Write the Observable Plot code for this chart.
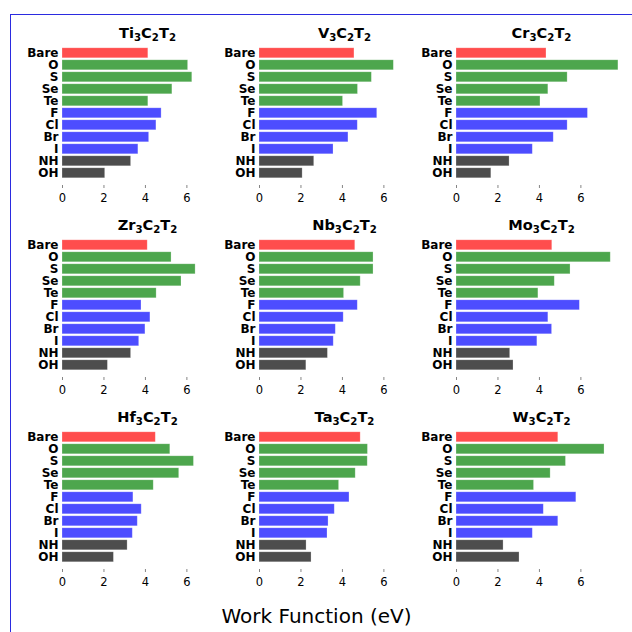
<!DOCTYPE html>
<html>
<head>
<meta charset="utf-8">
<script src="https://cdn.jsdelivr.net/npm/d3@7"></script>
<script src="https://cdn.jsdelivr.net/npm/@observablehq/plot@0.6"></script>
<style>
html, body { margin: 0; padding: 0; background: #fff; overflow: hidden; }
#wrap { position: relative; width: 632px; height: 632px; }
#frame { position: absolute; left: 10px; top: 13.5px; right: -5px; bottom: -5px;
  border-left: 1.4px solid #2b2be0; border-top: 1.4px solid #2b2be0; pointer-events: none; }
</style>
</head>
<body>
<div id="wrap"><div id="chart"></div><div id="frame"></div></div>
<script>
// ---- data ----
const metals = ["Ti", "V", "Cr", "Zr", "Nb", "Mo", "Hf", "Ta", "W"];
const titles = ["Ti₃C₂T₂", "V₃C₂T₂", "Cr₃C₂T₂", "Zr₃C₂T₂", "Nb₃C₂T₂", "Mo₃C₂T₂", "Hf₃C₂T₂", "Ta₃C₂T₂", "W₃C₂T₂"];
const terminations = ["Bare", "O", "S", "Se", "Te", "F", "Cl", "Br", "I", "NH", "OH"];
const groups = ["Bare", "Chalcogen", "Chalcogen", "Chalcogen", "Chalcogen", "Halogen", "Halogen", "Halogen", "Halogen", "Molecular", "Molecular"];

const Ti = [4.14, 6.06, 6.26, 5.30, 4.14, 4.78, 4.53, 4.18, 3.66, 3.31, 2.06];
const V  = [4.58, 6.48, 5.42, 4.75, 4.03, 5.68, 4.74, 4.29, 3.57, 2.64, 2.08];
const Cr = [4.34, 7.81, 5.36, 4.43, 4.05, 6.34, 5.36, 4.69, 3.68, 2.56, 1.68];
const Zr = [4.11, 5.26, 6.42, 5.74, 4.54, 3.81, 4.24, 4.00, 3.70, 3.31, 2.19];
const Nb = [4.62, 5.50, 5.50, 4.88, 4.08, 4.74, 4.06, 3.68, 3.58, 3.30, 2.26];
const Mo = [4.62, 7.44, 5.50, 4.74, 3.95, 5.95, 4.43, 4.61, 3.90, 2.59, 2.75];
const Hf = [4.50, 5.20, 6.34, 5.63, 4.40, 3.42, 3.82, 3.63, 3.39, 3.14, 2.48];
const Ta = [4.88, 5.23, 5.22, 4.64, 3.84, 4.34, 3.63, 3.33, 3.28, 2.27, 2.51];
const W  = [4.91, 7.14, 5.28, 4.54, 3.74, 5.78, 4.21, 4.91, 3.68, 2.27, 3.04];

const xTicks = [0, 2, 4, 6];
const xLabel = "Work Function (eV)";

// ---- styles ----
const groupColors = ["#ff4d4d", "#4da64d", "#4d4dff", "#4d4d4d"];

// ---- build tables ----
const series = [Ti, V, Cr, Zr, Nb, Mo, Hf, Ta, W];
const rows = metals.flatMap((m, i) => terminations.map((t, j) => ({
  metal: m, col: i % 3, row: Math.floor(i / 3), term: t, group: groups[j], value: series[i][j]
})));
const panels = metals.map((m, i) => ({ col: i % 3, row: Math.floor(i / 3), title: titles[i] }));

const chart = Plot.plot({
  width: 632,
  height: 632,
  marginLeft: 61,
  marginRight: 4.8,
  marginTop: 39.2,
  marginBottom: 61.6,
  style: { fontFamily: "DejaVu Sans", background: "transparent", color: "#000" },
  fx: { domain: [0, 1, 2], paddingInner: 0.136, paddingOuter: 0, axis: null },
  fy: { domain: [0, 1, 2], paddingInner: 0.245, paddingOuter: 0, axis: null },
  x: { domain: [0, 8.2] },
  y: { domain: terminations, paddingInner: 0.2, paddingOuter: 0.54 },
  color: { domain: ["Bare", "Chalcogen", "Halogen", "Molecular"], range: groupColors },
  marks: [
    Plot.barX(rows, { fx: "col", fy: "row", x: "value", y: "term", fill: "group",
      stroke: "white", strokeOpacity: 0.35, strokeWidth: 0.7 }),
    Plot.axisY({ facetAnchor: null, tickSize: 0, tickPadding: 4, fontSize: 12,
      fontWeight: "bold", label: null }),
    Plot.axisX({ facetAnchor: null, anchor: "bottom", ticks: xTicks, tickSize: 3,
      tickPadding: 5, fontSize: 11.5, label: null, stroke: "#666", strokeWidth: 0.8 }),
    Plot.text(panels, { fx: "col", fy: "row", text: "title", frameAnchor: "top",
      lineAnchor: "middle", dy: -7.2, fontSize: 14.6, fontWeight: "bold", className: "ptitle" }),
    Plot.text([{ col: 1, row: 2, label: xLabel }], { fx: "col", fy: "row", text: "label",
      frameAnchor: "bottom", lineAnchor: "middle", dy: 47, dx: -28, fontSize: 20 })
  ]
});

// Render subscript digits as smaller, lowered digits (like mathtext)
const subMap = { "₀": "0", "₁": "1", "₂": "2", "₃": "3", "₄": "4", "₅": "5", "₆": "6", "₇": "7", "₈": "8", "₉": "9" };
chart.querySelectorAll(".ptitle text").forEach(t => {
  const s = t.textContent;
  while (t.firstChild) t.removeChild(t.firstChild);
  let prevSub = false;
  for (const ch of s) {
    const isSub = ch in subMap;
    const ts = document.createElementNS("http://www.w3.org/2000/svg", "tspan");
    ts.textContent = isSub ? subMap[ch] : ch;
    if (isSub) { ts.setAttribute("font-size", "10.2"); }
    if (isSub && !prevSub) ts.setAttribute("dy", "3");
    if (!isSub && prevSub) ts.setAttribute("dy", "-3");
    t.appendChild(ts);
    prevSub = isSub;
  }
});
document.getElementById("chart").appendChild(chart);
</script>
</body>
</html>
